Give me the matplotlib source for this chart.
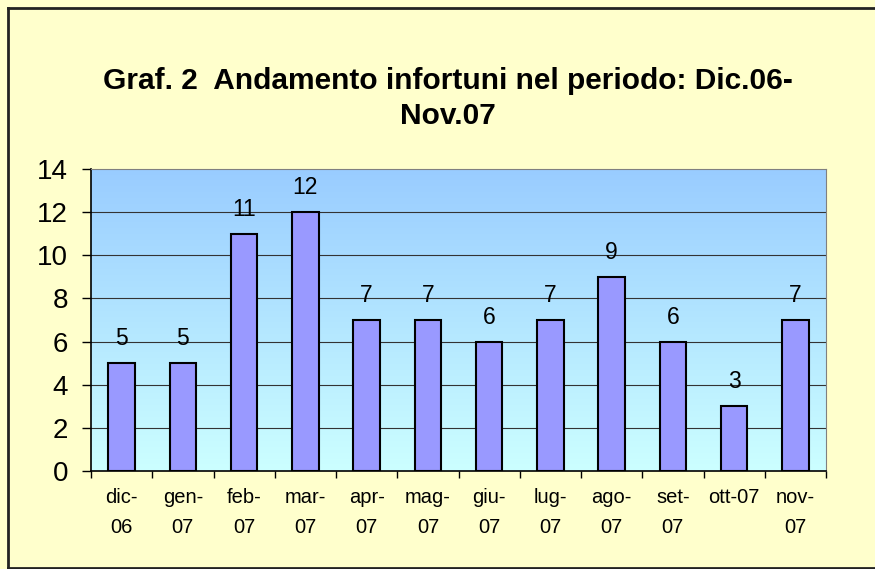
import numpy as np
import matplotlib.pyplot as plt
from matplotlib.lines import Line2D

mesi = ['dic-\n06', 'gen-\n07', 'feb-\n07', 'mar-\n07', 'apr-\n07', 'mag-\n07',
        'giu-\n07', 'lug-\n07', 'ago-\n07', 'set-\n07', 'ott-07', 'nov-\n07']
infortuni = [5, 5, 11, 12, 7, 7, 6, 7, 9, 6, 3, 7]

plt.rcParams['font.family'] = ['Liberation Sans', 'DejaVu Sans']

fig = plt.figure(figsize=(8.75, 5.69), dpi=100, facecolor='#FFFFCC')
ax = fig.add_axes([0.104, 0.172, 0.84, 0.531])

n = len(infortuni)
x = np.arange(n)

# gradient background of the plot area
grad = np.linspace(0, 1, 256).reshape(-1, 1)
top = np.array([0x99, 0xCC, 0xFF]) / 255.
bot = np.array([0xCC, 0xFF, 0xFF]) / 255.
img = top + (bot - top) * grad[:, :, None]
ax.imshow(img, extent=(-0.5, n - 0.5, 0, 14), aspect='auto', zorder=0)

for y in range(2, 14, 2):
    ax.axhline(y, color='#333333', lw=0.8, zorder=1)

ax.bar(x, infortuni, width=0.43, color='#9999FF', edgecolor='black', lw=1.5, zorder=2)
for xi, v in zip(x, infortuni):
    ax.text(xi, v + 0.6, str(v), ha='center', va='bottom', fontsize=16.5)

ax.set_xlim(-0.5, n - 0.5)
ax.set_ylim(0, 14)
ax.set_yticks(range(0, 15, 2))
ax.tick_params(axis='y', labelsize=20, length=6.5, width=1, pad=10)
ax.set_xticks(np.arange(-0.5, n, 1))
ax.set_xticklabels([])
ax.set_xticks(x, minor=True)
ax.set_xticklabels(mesi, minor=True, fontsize=14.5, linespacing=1.75)
ax.tick_params(axis='x', which='major', length=5, width=1)
ax.tick_params(axis='x', which='minor', length=0, pad=12)

for s in ['top', 'right']:
    ax.spines[s].set_color('#808080')
for s in ['left', 'bottom']:
    ax.spines[s].set_color('black')
    ax.spines[s].set_linewidth(1.2)

fig.text(0.512, 0.827, 'Graf. 2  Andamento infortuni nel periodo: Dic.06-\nNov.07',
         ha='center', va='center', fontsize=21.5, fontweight='bold', linespacing=1.3)

# outer chart border (right side falls outside the picture)
W, H = 875., 569.
for xs, ys in [((8, 880), (H - 8, H - 8)), ((8, 8), (H - 8, H - 568)), ((8, 880), (H - 568, H - 568))]:
    fig.lines.append(Line2D([a / W for a in xs], [b / H for b in ys], transform=fig.transFigure,
                            color='#222222', lw=2))

fig.savefig('out.png', dpi=100, facecolor=fig.get_facecolor())
